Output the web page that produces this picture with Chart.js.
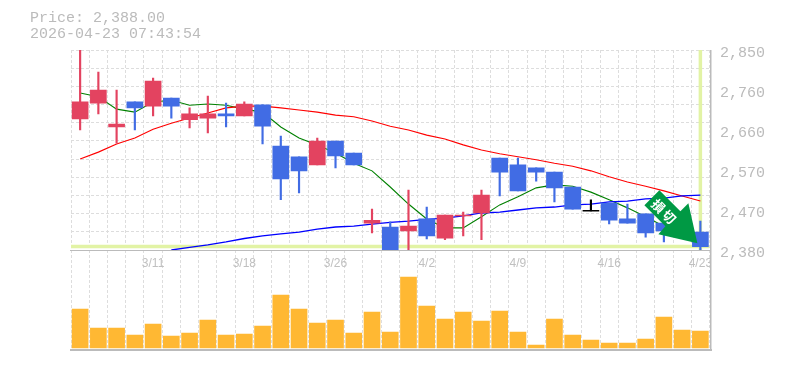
<!DOCTYPE html>
<html>
<head>
  <title>Price Chart</title>
  <script src="https://cdn.jsdelivr.net/npm/chart.js"></script>
  <style>
    body { margin: 0; background: #fff; }
    #wrap { position: relative; width: 785px; height: 370px; }
    #priceInfo {
      position: absolute; left: 30px; top: 11px;
      font: 15px/15.5px 'Liberation Mono', monospace;
      color: #bbb; white-space: pre;
    }
  </style>
</head>
<body>
<div id="wrap">
  <canvas id="chart" width="785" height="370"></canvas>
  <div id="priceInfo">Price: 2,388.00
2026-04-23 07:43:54</div>
</div>

<script>
  const dates = ['3/5','3/6','3/9','3/10','3/11','3/12','3/13','3/16','3/17','3/18','3/19','3/23','3/24','3/25','3/26','3/27','3/30','3/31','4/1','4/2','4/3','4/6','4/7','4/8','4/9','4/10','4/13','4/14','4/15','4/16','4/17','4/20','4/21','4/22','4/23'];
  const shownDates = ['3/11','3/18','3/26','4/2','4/9','4/16','4/23'];

  const opens  = [2688,2725,2669,2728,2718,2737,2686,2690,2700,2695,2721,2624,2599,2580,2636,2608,2443,2434,2425,2453,2408,2460,2467,2596,2580,2573,2563,2528,2472,2490,2453,2465,2443,2436,2422];
  const closes = [2728,2756,2676,2714,2777,2718,2700,2700,2695,2723,2671,2547,2566,2636,2601,2580,2450,2380,2436,2413,2462,2462,2509,2563,2519,2563,2526,2476,2472,2450,2443,2420,2425,2422,2388];
  const highs  = [2850,2798,2756,2728,2784,2737,2714,2742,2725,2728,2721,2648,2599,2643,2636,2608,2476,2446,2521,2481,2462,2469,2521,2596,2596,2573,2563,2528,2498,2490,2488,2465,2443,2445,2448];
  const lows   = [2662,2700,2631,2662,2695,2690,2667,2655,2669,2695,2629,2498,2514,2580,2573,2580,2420,2380,2380,2406,2404,2413,2404,2507,2519,2542,2493,2476,2472,2441,2443,2410,2399,2410,2380];

  const maShort = [2749,2740,2711,2704,2728,2732,2720,2723,2720,2711,2704,2669,2643,2627,2608,2584,2566,2528,2488,2453,2432,2432,2458,2486,2505,2526,2533,2530,2516,2498,2479,2458,2436,2422,2410];
  const maMid   = [2594,2610,2629,2643,2664,2678,2690,2702,2714,2718,2718,2714,2709,2704,2697,2693,2683,2671,2662,2650,2641,2627,2615,2606,2599,2592,2584,2577,2566,2552,2540,2530,2519,2507,2495];
  const maLong  = [null,null,null,null,null,2380,2386,2392,2399,2407,2413,2418,2422,2429,2434,2436,2441,2445,2448,2452,2455,2460,2467,2469,2474,2479,2481,2486,2488,2493,2495,2500,2502,2507,2509];

  const volumes = [390,200,200,130,240,120,150,280,130,140,220,530,390,250,280,150,360,160,710,420,290,360,270,370,160,30,290,130,80,50,50,90,310,180,170];

  const lastPrice = 2388;
  const priceMin = 2380, priceMax = 2850;
  const priceLabels = [2850,2756,2662,2568,2474,2380];
  const priceLabelText = ['2,850','2,760','2,660','2,570','2,470','2,380'];
  const priceGrid = [2850,2807.3,2764.5,2721.8,2679.1,2636.4,2593.6,2550.9,2508.2,2465.5,2422.7,2380];

  const UP = '#e34360', DOWN = '#416ce4', FLAT = '#000';
  const colors = opens.map((o, i) => closes[i] > o ? UP : closes[i] < o ? DOWN : FLAT);

  // the arrow is an overlay anchored on the last candle
  const arrowPlugin = {
    id: 'arrow',
    afterDatasetsDraw(chart) {
      const c = chart.ctx;
      const tipX = chart.scales.x.getPixelForValue(34) - 3;
      const tipY = chart.scales.price.getPixelForValue(2396);
      const pts = [[0,0],[-39,-9],[-32,-17],[-53,-38],[-38,-53],[-17,-32],[-9,-40]];
      c.save();
      c.translate(tipX, tipY);
      c.beginPath();
      pts.forEach((p, i) => i ? c.lineTo(p[0], p[1]) : c.moveTo(p[0], p[1]));
      c.closePath();
      c.fillStyle = '#009944';
      c.fill();
      c.translate(-33, -31);
      c.rotate(Math.PI / 4);
      c.fillStyle = '#fff';
      c.font = "bold 13px 'Noto Sans CJK JP'";
      c.letterSpacing = '2px';
      c.textAlign = 'center';
      c.textBaseline = 'middle';
      c.fillText('損切', 0, 0);
      c.restore();
    }
  };

  // solid frame lines, and the last date is cut off at the frame in the original
  const framePlugin = {
    id: 'frame',
    afterDraw(chart) {
      const c = chart.ctx, a = chart.chartArea;
      const split = Math.round(chart.scales.price.bottom);
      const right = Math.round(a.right);
      c.save();
      c.fillStyle = '#fff';
      c.fillRect(right + 1, split + 1, 8, 22);
      c.fillStyle = '#bbb';
      c.fillRect(Math.floor(a.left) - 1, split, right - a.left + 2, 1);
      c.fillRect(Math.floor(a.left) - 1, a.bottom - 1, right - a.left + 3, 2);
      c.fillRect(right, a.top, 1.5, a.bottom - a.top);
      c.restore();
    }
  };

  new Chart(document.getElementById('chart').getContext('2d'), {
    data: {
      labels: dates,
      datasets: [
        { type: 'line', xAxisID: 'guide', yAxisID: 'price', order: 9, data: [{x:0,y:lastPrice},{x:35,y:lastPrice}], borderColor: '#e2f3a5', borderWidth: 3.5, pointRadius: 0 },
        { type: 'line', xAxisID: 'guide', yAxisID: 'price', order: 9, data: [{x:34.5,y:priceMin},{x:34.5,y:priceMax}], borderColor: '#e2f3a5', borderWidth: 3.5, pointRadius: 0 },
        { type: 'line', yAxisID: 'price', order: 5, data: maLong, borderColor: '#0000ff', borderWidth: 1.3, pointRadius: 0 },
        { type: 'line', yAxisID: 'price', order: 5, data: maMid, borderColor: '#ff0000', borderWidth: 1.1, pointRadius: 0 },
        { type: 'line', yAxisID: 'price', order: 5, data: maShort, borderColor: '#008000', borderWidth: 1.1, pointRadius: 0 },
        { type: 'bar', yAxisID: 'price', order: 2, grouped: false, data: highs.map((h, i) => [lows[i], h]), backgroundColor: colors, barThickness: 1.5 },
        { type: 'bar', yAxisID: 'price', order: 1, grouped: false, data: opens.map((o, i) => o === closes[i] ? [o - 1, o + 1] : [o, closes[i]]), backgroundColor: colors, barThickness: 16 },
        { type: 'bar', yAxisID: 'volume', order: 1, grouped: false, data: volumes, backgroundColor: '#ffb833', barThickness: 16 }
      ]
    },
    options: {
      responsive: false,
      animation: false,
      layout: { padding: { left: 71, top: 50, bottom: 20, right: 0 } },
      plugins: { legend: { display: false }, tooltip: { enabled: false } },
      scales: {
        x: {
          type: 'category',
          position: { price: priceMin },
          grid: { offset: true, color: '#ddd', drawTicks: false },
          border: { display: false, dash: [3, 2] },
          ticks: {
            autoSkip: false, maxRotation: 0, padding: 6, color: '#c0c0c0',
            font: { family: 'Liberation Sans', size: 12 },
            callback(v) { const d = this.getLabelForValue(v); return shownDates.includes(d) ? d : ''; }
          }
        },
        guide: { type: 'linear', display: false, min: 0, max: 35 },
        price: {
          position: 'right', stack: 'panes', stackWeight: 2, min: priceMin, max: priceMax,
          afterBuildTicks(s) { s.ticks = [...new Set(priceGrid.concat(priceLabels))].map(value => ({ value })); },
          afterFit(s) { s.width = 75.5; },
          grid: { drawTicks: false, color: ctx => priceGrid.includes(ctx.tick.value) ? '#ddd' : 'transparent' },
          border: { display: false, dash: [3, 2] },
          ticks: {
            autoSkip: false, padding: 10.5, labelOffset: 3, color: '#bbb',
            font: { family: 'Liberation Mono', size: 15 },
            callback: v => priceLabels.includes(v) ? priceLabelText[priceLabels.indexOf(v)] : ''
          }
        },
        volume: {
          position: 'right', stack: 'panes', stackWeight: 1, min: -20, max: 980,
          afterFit(s) { s.width = 75.5; },
          grid: { display: false },
          border: { display: false },
          ticks: { display: false }
        }
      }
    },
    plugins: [arrowPlugin, framePlugin]
  });
</script>
</body>
</html>
